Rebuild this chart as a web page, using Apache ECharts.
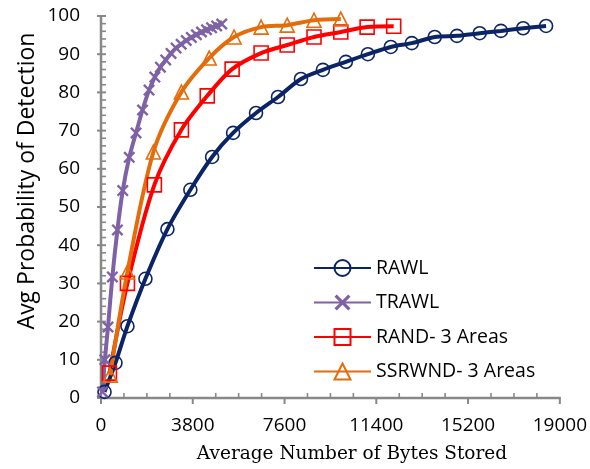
<!DOCTYPE html>
<html>
<head>
<meta charset="utf-8">
<script src="https://cdn.jsdelivr.net/npm/echarts@6/dist/echarts.min.js"></script>
<style>
  html, body { margin: 0; padding: 0; background: #fff; }
  #chart { width: 590px; height: 469px; }
</style>
</head>
<body>
<div id="chart"></div>
<script>
// Average bytes stored (x) vs. average probability of detection (y)
const rawlX = [145, 600, 1095, 1840, 2750, 3700, 4600, 5470, 6420, 7330, 8280, 9190, 10140, 11050, 12000, 12870, 13820, 14740, 15680, 16560, 17480, 18430];
const rawlY = [1.6, 9.2, 18.8, 31.2, 44.2, 54.5, 63.1, 69.4, 74.6, 78.8, 83.5, 85.9, 88.0, 90.0, 91.9, 92.9, 94.5, 94.8, 95.5, 96.1, 96.8, 97.4];

const trawlX = [60, 160, 290, 470, 680, 900, 1170, 1450, 1720, 1990, 2230, 2460, 2680, 2900, 3110, 3320, 3530, 3740, 3950, 4160, 4370, 4580, 4790, 5000];
const trawlY = [1.6, 10, 18.6, 31.7, 44, 54.3, 63, 69.4, 75.4, 80.6, 84, 86.6, 88.5, 90.2, 91.6, 92.6, 93.6, 94.4, 95.1, 95.8, 96.4, 96.9, 97.4, 97.9];

const randX = [350, 1095, 2210, 3330, 4400, 5430, 6630, 7710, 8820, 9930, 11020, 12120];
const randY = [6.5, 30.0, 55.8, 70.2, 79.1, 86.1, 90.3, 92.4, 94.5, 95.8, 97.1, 97.3];

const ssrX = [380, 1095, 2170, 3330, 4480, 5510, 6630, 7710, 8820, 9930];
const ssrY = [6.0, 33.0, 64.4, 80.1, 89.0, 94.5, 97.1, 97.6, 98.9, 99.2];

const seriesNames = ['RAWL', 'TRAWL', 'RAND- 3 Areas', 'SSRWND- 3 Areas'];
const xTitle = 'Average Number of Bytes Stored';
const yTitle = 'Avg Probability of Detection';
const xTickValues = [0, 3800, 7600, 11400, 15200, 19000];
const yTickValues = [0, 10, 20, 30, 40, 50, 60, 70, 80, 90, 100];
const xMinorPerMajor = 4;
const yMinorPerMajor = 5;

const pairs = (xs, ys) => xs.map((x, i) => [x, ys[i]]);
const xMin = xTickValues[0], xMax = xTickValues[xTickValues.length - 1];
const yMin = yTickValues[0], yMax = yTickValues[yTickValues.length - 1];
const xStep = xTickValues[1] - xTickValues[0];
const yStep = yTickValues[1] - yTickValues[0];

const axisGray = '#888888';
const crossShape = 'path://M0,1.4L1.4,0L5,3.6L8.6,0L10,1.4L6.4,5L10,8.6L8.6,10L5,6.4L1.4,10L0,8.6L3.6,5Z';

// Axis frame pieces: [x, y, kind]
// kind 0 = x major tick, 1 = x minor tick, 2 = y major tick, 3 = y minor tick,
// 4 = x axis line, 5 = y axis line
const frameItems = [[xMin, yMin, 4], [xMin, yMin, 5]];
xTickValues.forEach((v, i) => {
  frameItems.push([v, yMin, 0]);
  if (i < xTickValues.length - 1) {
    for (let k = 1; k < xMinorPerMajor; k++) frameItems.push([v + k * xStep / xMinorPerMajor, yMin, 1]);
  }
});
yTickValues.forEach((v, i) => {
  frameItems.push([xMin, v, 2]);
  if (i < yTickValues.length - 1) {
    for (let k = 1; k < yMinorPerMajor; k++) frameItems.push([xMin, v + k * yStep / yMinorPerMajor, 3]);
  }
});

function renderFrame(params, api) {
  const kind = api.value(2);
  const p = api.coord([api.value(0), api.value(1)]);
  let shape, width = 2;
  if (kind === 0) {
    shape = { x1: p[0], y1: p[1], x2: p[0], y2: p[1] + 6 };
  } else if (kind === 1) {
    shape = { x1: p[0], y1: p[1], x2: p[0], y2: p[1] - 5 };
    width = 1.6;
  } else if (kind === 2) {
    shape = { x1: p[0] - 4, y1: p[1], x2: p[0] + 5, y2: p[1] };
  } else if (kind === 3) {
    shape = { x1: p[0], y1: p[1], x2: p[0] + 5, y2: p[1] };
    width = 1.6;
  } else if (kind === 4) {
    const q = api.coord([xMax, yMin]);
    shape = { x1: p[0] - 1, y1: p[1], x2: q[0] + 1, y2: q[1] };
    width = 2.5;
  } else {
    const q = api.coord([xMin, yMax]);
    shape = { x1: p[0], y1: p[1] + 1, x2: q[0], y2: q[1] - 1 };
    width = 2.5;
  }
  return { type: 'line', shape: shape, style: { stroke: axisGray, lineWidth: width } };
}

function lineSeries(name, data, color, symbol, size, hollow) {
  return {
    name: name,
    type: 'line',
    data: data,
    smooth: 0.3,
    symbol: symbol,
    symbolSize: size,
    showAllSymbol: true,
    z: 3,
    lineStyle: { color: color, width: 4 },
    itemStyle: hollow
      ? { color: 'rgba(255,255,255,0)', borderColor: color, borderWidth: 1.6 }
      : { color: color, borderWidth: 0 },
    emphasis: { disabled: true },
    animation: false
  };
}

const chart = echarts.init(document.getElementById('chart'));
chart.setOption({
  animation: false,
  grid: { left: 101, right: 28, top: 16, bottom: 71 },
  legend: {
    orient: 'vertical',
    left: 313,
    top: 258,
    padding: 0,
    itemWidth: 57,
    itemHeight: 20,
    itemGap: 14.5,
    textStyle: { fontFamily: 'Open Sans', fontSize: 19.5, lineHeight: 20, color: '#000' },
    data: seriesNames
  },
  graphic: [{
    type: 'text',
    x: 352, y: 454,
    style: { text: xTitle, font: '18.5px "DejaVu Serif"', fill: '#000', align: 'center', verticalAlign: 'middle' }
  }, {
    type: 'text',
    x: 27, y: 181,
    rotation: Math.PI / 2,
    style: { text: yTitle, font: '23px "Open Sans"', fill: '#000', align: 'center', verticalAlign: 'middle' }
  }],
  xAxis: {
    type: 'value',
    min: xMin, max: xMax, interval: xStep,
    axisLine: { show: false },
    axisTick: { show: false },
    axisLabel: { margin: 18, formatter: v => String(v), fontFamily: 'Open Sans', fontSize: 19, color: '#000' },
    splitLine: { show: false }
  },
  yAxis: {
    type: 'value',
    min: yMin, max: yMax, interval: yStep,
    axisLine: { show: false },
    axisTick: { show: false },
    axisLabel: { margin: 21, fontFamily: 'Open Sans', fontSize: 19, color: '#000' },
    splitLine: { show: false }
  },
  series: [
    {
      name: 'frame',
      type: 'custom',
      data: frameItems,
      encode: { x: 0, y: 1 },
      renderItem: renderFrame,
      clip: false,
      silent: true,
      z: 1,
      animation: false
    },
    lineSeries(seriesNames[0], pairs(rawlX, rawlY), '#0b2466', 'circle', 13, true),
    lineSeries(seriesNames[1], pairs(trawlX, trawlY), '#7e62a5', crossShape, 12, false),
    lineSeries(seriesNames[2], pairs(randX, randY), '#ff0000', 'rect', 14, true),
    lineSeries(seriesNames[3], pairs(ssrX, ssrY), '#e46c0a', 'triangle', 14, true)
  ]
});
</script>
</body>
</html>
